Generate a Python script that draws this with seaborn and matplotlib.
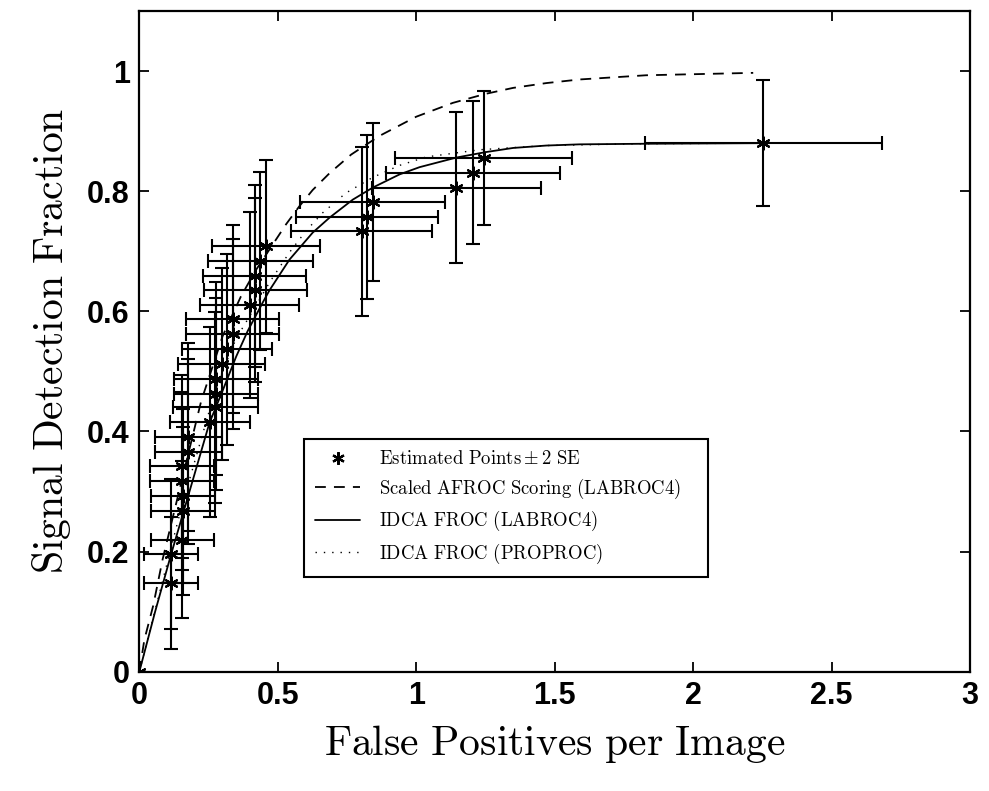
import numpy as np
import pandas as pd
import seaborn as sns
import matplotlib.pyplot as plt
from matplotlib.lines import Line2D

# estimated operating points (FPI, detection fraction) with 2 SE bars
fpi = [0.0, 0.115, 0.115, 0.155, 0.157, 0.157, 0.154, 0.154, 0.177, 0.177,
       0.255, 0.275, 0.277, 0.277, 0.298, 0.317, 0.337, 0.337, 0.398, 0.418,
       0.416, 0.437, 0.458, 0.803, 0.822, 0.843, 1.145, 1.205, 1.244, 2.253]
sdf = [0.0, 0.147, 0.196, 0.220, 0.268, 0.292, 0.318, 0.342, 0.366, 0.391,
       0.416, 0.440, 0.463, 0.488, 0.512, 0.537, 0.562, 0.587, 0.611, 0.635,
       0.659, 0.684, 0.708, 0.733, 0.757, 0.782, 0.806, 0.831, 0.855, 0.880]
fpi_err = [0.0, 0.098, 0.098, 0.114, 0.115, 0.115, 0.114, 0.114, 0.122, 0.122,
           0.146, 0.152, 0.152, 0.152, 0.157, 0.162, 0.167, 0.167, 0.180, 0.186,
           0.186, 0.190, 0.195, 0.255, 0.258, 0.262, 0.305, 0.313, 0.320, 0.428]
sdf_err = [0.0, 0.110, 0.125, 0.130, 0.140, 0.145, 0.148, 0.152, 0.154, 0.156,
           0.158, 0.159, 0.160, 0.160, 0.160, 0.159, 0.158, 0.157, 0.155, 0.153,
           0.151, 0.148, 0.144, 0.140, 0.136, 0.131, 0.126, 0.119, 0.112, 0.105]

# fitted curves
afroc_x = [0, 0.018, 0.05, 0.084, 0.145, 0.223, 0.301, 0.367, 0.42, 0.47, 0.53,
           0.578, 0.626, 0.687, 0.765, 0.867, 1.0, 1.132, 1.25, 1.35, 1.47, 1.59,
           1.83, 2.217]
afroc_y = [0, 0.053, 0.11, 0.187, 0.303, 0.45, 0.559, 0.625, 0.668, 0.703, 0.745,
           0.775, 0.802, 0.83, 0.861, 0.892, 0.924, 0.947, 0.962, 0.972, 0.98, 0.986,
           0.993, 0.997]
lab_x = [0, 0.057, 0.115, 0.157, 0.2, 0.253, 0.3, 0.35, 0.391, 0.446, 0.47, 0.542,
         0.626, 0.687, 0.771, 0.843, 0.94, 1.012, 1.145, 1.25, 1.35, 1.47, 1.59,
         1.83, 2.25]
lab_y = [0, 0.1, 0.196, 0.262, 0.33, 0.414, 0.467, 0.525, 0.567, 0.615, 0.635, 0.686,
         0.731, 0.756, 0.786, 0.806, 0.828, 0.84, 0.856, 0.865, 0.872, 0.876, 0.878,
         0.879, 0.88]
pro_x = [0, 0.05, 0.1, 0.15, 0.2, 0.25, 0.3, 0.35, 0.422, 0.47, 0.542, 0.602, 0.662,
         0.746, 0.843, 0.94, 1.036, 1.229, 1.47, 1.8, 2.25]
pro_y = [0, 0.09, 0.18, 0.27, 0.35, 0.43, 0.5, 0.555, 0.61, 0.648, 0.698, 0.734, 0.764,
         0.797, 0.823, 0.843, 0.857, 0.869, 0.876, 0.879, 0.88]

sns.set_style('ticks')
plt.rcParams['mathtext.fontset'] = 'cm'
plt.rcParams['font.family'] = ['Liberation Sans', 'DejaVu Sans']
plt.rcParams['text.color'] = 'k'
plt.rcParams['axes.labelcolor'] = 'k'

fig = plt.figure(figsize=(9.89, 7.91), dpi=100)
ax = fig.add_axes([0.1409, 0.1508, 0.8399, 0.8353])

sns.lineplot(x=afroc_x, y=afroc_y, ax=ax, color='k', lw=1.3, sort=False,
             estimator=None, dashes=False, linestyle=(0, (6, 4.5)))
sns.lineplot(x=lab_x, y=lab_y, ax=ax, color='k', lw=1.3, sort=False, estimator=None)
sns.lineplot(x=pro_x, y=pro_y, ax=ax, color='k', lw=1.0, sort=False,
             estimator=None, linestyle=(0, (1, 5)))

ax.errorbar(fpi, sdf, xerr=fpi_err, yerr=sdf_err, fmt='none', ecolor='k',
            elinewidth=1.5, capsize=5, capthick=1.5)
pts = pd.DataFrame({'fpi': fpi, 'sdf': sdf})
sns.scatterplot(data=pts, x='fpi', y='sdf', ax=ax, marker=(6, 2, 0), s=80,
                color='k', linewidth=1.6, zorder=5)

ax.set_xlim(0, 3)
ax.set_ylim(0, 1.1)
ax.set_xticks([0, 0.5, 1, 1.5, 2, 2.5, 3])
ax.set_xticklabels(['0', '0.5', '1', '1.5', '2', '2.5', '3'])
ax.set_yticks([0, 0.2, 0.4, 0.6, 0.8, 1])
ax.set_yticklabels(['0', '0.2', '0.4', '0.6', '0.8', '1'])
ax.tick_params(direction='in', length=7, width=1.3, top=True, right=True,
               labelsize=22, pad=7, labelcolor='k', color='k')
for lbl in ax.get_xticklabels() + ax.get_yticklabels():
    lbl.set_fontweight('bold')
for sp in ax.spines.values():
    sp.set_linewidth(1.6)
    sp.set_color('k')

ax.set_xlabel(r'$\mathrm{False\ Positives\ per\ Image}$', fontsize=30, labelpad=8,
              color='k')
ax.set_ylabel(r'$\mathrm{Signal\ Detection\ Fraction}$', fontsize=30, labelpad=10,
              color='k')

handles = [
    Line2D([], [], color='k', ls='none', marker=(6, 2, 0), ms=9, mew=1.6),
    Line2D([], [], color='k', lw=1.3, linestyle=(0, (6, 4.5))),
    Line2D([], [], color='k', lw=1.3),
    Line2D([], [], color='k', lw=1.0, linestyle=(0, (1, 5))),
]
labels = [r'$\mathrm{Estimated\ Points} \pm \mathrm{2\ SE}$',
          r'$\mathrm{Scaled\ AFROC\ Scoring\ (LABROC4)}$',
          r'$\mathrm{IDCA\ FROC\ (LABROC4)}$',
          r'$\mathrm{IDCA\ FROC\ (PROPROC)}$']
leg = ax.legend(handles, labels, loc='lower left',
                bbox_to_anchor=(0.198, 0.143, 0.487, 0.2), mode='expand',
                fontsize=13.5, frameon=True, fancybox=False, framealpha=1,
                edgecolor='k', handlelength=2.4, handletextpad=1.0,
                borderpad=0.6, labelspacing=0.45, borderaxespad=0,
                labelcolor='k')
leg.get_frame().set_linewidth(1.5)

fig.savefig('out.png', dpi=100)
